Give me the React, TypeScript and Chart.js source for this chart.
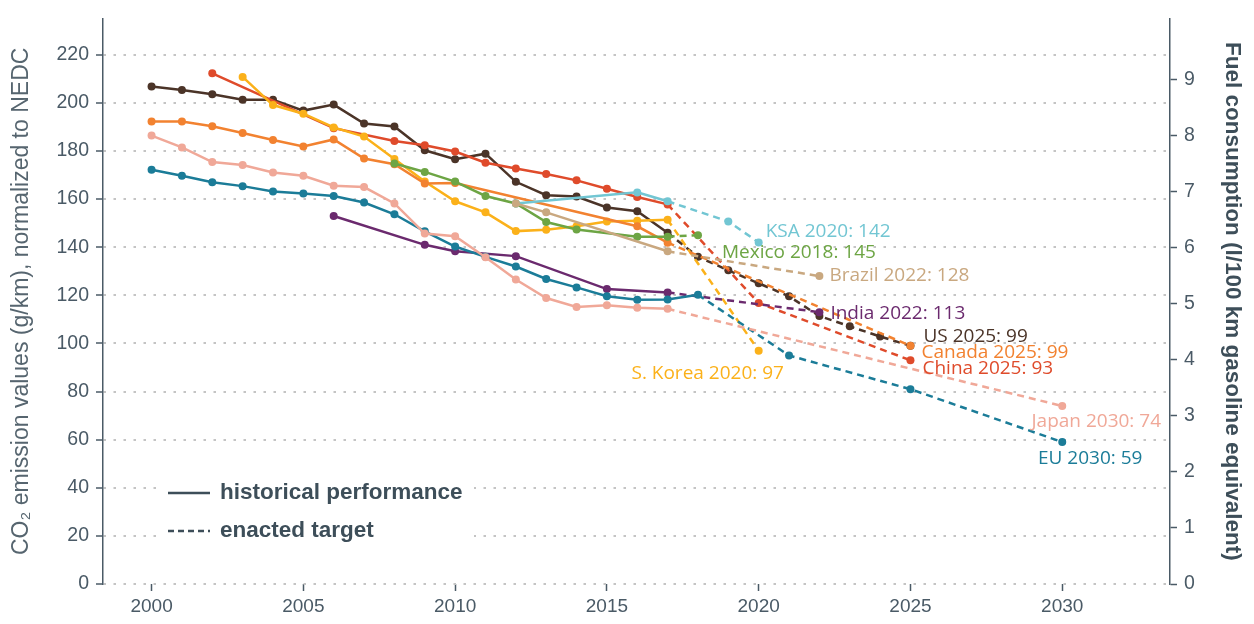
import React, { useEffect, useRef } from 'react';
import { Chart, registerables } from 'chart.js';

Chart.register(...registerables);

// ---------- data (CO2 g/km, NEDC) ----------
const usHistYears = [2000, 2001, 2002, 2003, 2004, 2005, 2006, 2007, 2008, 2009, 2010, 2011, 2012, 2013, 2014, 2015, 2016, 2017];
const usHist = [206.8, 205.4, 203.6, 201.3, 201.3, 196.8, 199.3, 191.4, 190.2, 180.3, 176.6, 178.9, 167.2, 161.6, 161.1, 156.5, 155.0, 146.0];
const usTargetYears = [2018, 2019, 2020, 2021, 2022, 2023, 2024, 2025];
const usTarget = [136.0, 130.4, 125.0, 119.6, 111.4, 107.1, 102.9, 99];

const chinaHistYears = [2002, 2006, 2008, 2009, 2010, 2011, 2012, 2013, 2014, 2015, 2016, 2017];
const chinaHist = [212.3, 189.5, 184.2, 182.4, 179.8, 175.1, 172.7, 170.4, 167.8, 164.3, 160.9, 157.8];
const chinaTargetYears = [2020, 2025];
const chinaTarget = [116.8, 93];

const canadaHistYears = [2000, 2001, 2002, 2003, 2004, 2005, 2006, 2007, 2008, 2009, 2010, 2016, 2017];
const canadaHist = [192.3, 192.3, 190.3, 187.5, 184.6, 181.9, 184.8, 176.9, 174.5, 166.5, 166.7, 148.7, 141.9];
const canadaTargetYears = [2025];
const canadaTarget = [99];

const koreaHistYears = [2003, 2004, 2005, 2006, 2007, 2008, 2009, 2010, 2011, 2012, 2013, 2014, 2015, 2016, 2017];
const koreaHist = [210.8, 199.1, 195.5, 189.8, 186.0, 176.7, 167.3, 159.1, 154.5, 146.7, 147.3, 148.7, 150.7, 151.0, 151.4];
const koreaTargetYears = [2020];
const koreaTarget = [97];

const mexicoHistYears = [2008, 2009, 2010, 2011, 2012, 2013, 2014, 2016, 2017];
const mexicoHist = [174.8, 171.3, 167.3, 161.3, 158.2, 150.5, 147.4, 144.4, 144.4];
const mexicoTargetYears = [2018];
const mexicoTarget = [145];

const brazilHistYears = [2012, 2013, 2017];
const brazilHist = [158.2, 154.5, 138.3];
const brazilTargetYears = [2022];
const brazilTarget = [128];

const ksaHistYears = [2012, 2016, 2017];
const ksaHist = [158.2, 162.8, 159.1];
const ksaTargetYears = [2019, 2020];
const ksaTarget = [150.7, 142];

const indiaHistYears = [2006, 2009, 2010, 2012, 2015, 2017];
const indiaHist = [153.0, 141.0, 138.3, 136.3, 122.6, 121.2];
const indiaTargetYears = [2022];
const indiaTarget = [113];

const euHistYears = [2000, 2001, 2002, 2003, 2004, 2005, 2006, 2007, 2008, 2009, 2010, 2011, 2012, 2013, 2014, 2015, 2016, 2017, 2018];
const euHist = [172.2, 169.7, 167.0, 165.4, 163.2, 162.3, 161.3, 158.6, 153.7, 146.6, 140.3, 136.0, 132.0, 126.8, 123.3, 119.6, 118.2, 118.3, 120.2];
const euTargetYears = [2021, 2025, 2030];
const euTarget = [95, 81, 59];

const japanHistYears = [2000, 2001, 2002, 2003, 2004, 2005, 2006, 2007, 2008, 2009, 2010, 2011, 2012, 2013, 2014, 2015, 2016, 2017];
const japanHist = [186.4, 181.5, 175.4, 174.2, 171.1, 169.7, 165.6, 165.0, 158.2, 145.7, 144.6, 135.8, 126.6, 118.9, 115.2, 115.9, 114.8, 114.4];
const japanTargetYears = [2030];
const japanTarget = [74];

const targetLabels = ['US 2025: 99', 'China 2025: 93', 'Canada 2025: 99', 'S. Korea 2020: 97', 'Mexico 2018: 145', 'Brazil 2022: 128', 'KSA 2020: 142', 'India 2022: 113', 'EU 2030: 59', 'Japan 2030: 74'];

const leftTicks = [0, 20, 40, 60, 80, 100, 120, 140, 160, 180, 200, 220];
const rightTicks = [0, 1, 2, 3, 4, 5, 6, 7, 8, 9];
const xTicks = [2000, 2005, 2010, 2015, 2020, 2025, 2030];
const legendLabels = ['historical performance', 'enacted target'];
const G_PER_L = 23.31; // g/km per l/100km (gasoline equivalent)

// ---------- styling ----------
const AXIS = '#4a5a66';
const series = [
  { hy: japanHistYears, h: japanHist, ty: japanTargetYears, t: japanTarget, color: '#f0a898', label: 9, dx: 34, dy: 16, align: 'center' },
  { hy: euHistYears, h: euHist, ty: euTargetYears, t: euTarget, color: '#1b7c98', label: 8, dx: 28, dy: 17, align: 'center' },
  { hy: indiaHistYears, h: indiaHist, ty: indiaTargetYears, t: indiaTarget, color: '#6b2a6e', label: 7, dx: 11, dy: 1, align: 'left' },
  { hy: brazilHistYears, h: brazilHist, ty: brazilTargetYears, t: brazilTarget, color: '#c9a880', label: 5, dx: 10, dy: 0, align: 'left' },
  { hy: ksaHistYears, h: ksaHist, ty: ksaTargetYears, t: ksaTarget, color: '#72c6d3', label: 6, dx: 7, dy: -11, align: 'left' },
  { hy: mexicoHistYears, h: mexicoHist, ty: mexicoTargetYears, t: mexicoTarget, color: '#6da544', label: 4, dx: 24, dy: 17, align: 'left' },
  { hy: canadaHistYears, h: canadaHist, ty: canadaTargetYears, t: canadaTarget, color: '#f28230', label: 2, dx: 11, dy: 7, align: 'left' },
  { hy: koreaHistYears, h: koreaHist, ty: koreaTargetYears, t: koreaTarget, color: '#fbb11a', label: 3, dx: -51, dy: 23, align: 'center' },
  { hy: chinaHistYears, h: chinaHist, ty: chinaTargetYears, t: chinaTarget, color: '#df4b2b', label: 1, dx: 12, dy: 8, align: 'left' },
  { hy: usHistYears, h: usHist, ty: usTargetYears, t: usTarget, color: '#4b3428', label: 0, dx: 13, dy: -9, align: 'left' },
];

const pts = (xs: number[], ys: number[]) => xs.map((x, i) => ({ x, y: ys[i] }));

const labelPlugin = {
  id: 'targetLabels',
  afterDatasetsDraw(chart: any) {
    const { ctx, scales } = chart;
    ctx.save();
    ctx.font = '19px "Open Sans"';
    ctx.textBaseline = 'middle';
    series.forEach((s) => {
      const lx = s.ty[s.ty.length - 1];
      const ly = s.t[s.t.length - 1];
      const px = scales.x.getPixelForValue(lx);
      const py = scales.y.getPixelForValue(ly);
      ctx.fillStyle = s.color;
      ctx.textAlign = s.align;
      ctx.fillText(targetLabels[s.label], px + s.dx, py + s.dy);
    });
    ctx.restore();
  },
};

const legendPlugin = {
  id: 'customLegend',
  afterDraw(chart: any) {
    const { ctx, chartArea } = chart;
    const x0 = chartArea.left + 57;
    const y1 = chartArea.bottom - 91;
    const y2 = chartArea.bottom - 53;
    ctx.save();
    ctx.fillStyle = '#ffffff';
    ctx.fillRect(x0 + 2, y1 - 18, 312, 72);
    ctx.strokeStyle = '#3d4e59';
    ctx.lineWidth = 2.5;
    ctx.beginPath();
    ctx.moveTo(x0 + 8, y1);
    ctx.lineTo(x0 + 50, y1);
    ctx.stroke();
    ctx.setLineDash([6, 4]);
    ctx.beginPath();
    ctx.moveTo(x0 + 8, y2);
    ctx.lineTo(x0 + 50, y2);
    ctx.stroke();
    ctx.setLineDash([]);
    ctx.fillStyle = '#3d4e59';
    ctx.font = 'bold 22.5px "Liberation Sans"';
    ctx.textBaseline = 'middle';
    ctx.textAlign = 'left';
    ctx.fillText(legendLabels[0], x0 + 60, y1);
    ctx.fillText(legendLabels[1], x0 + 60, y2);
    ctx.restore();
  },
};

export default function App() {
  const ref = useRef<HTMLCanvasElement>(null);
  useEffect(() => {
    if (!ref.current) return;
    const datasets: any[] = [];
    series.forEach((s) => {
      const hist = pts(s.hy, s.h);
      const last = hist[hist.length - 1];
      const common = {
        borderColor: s.color,
        backgroundColor: s.color,
        pointBackgroundColor: s.color,
        pointBorderWidth: 0,
        pointHoverRadius: 4,
        borderWidth: 2.5,
        fill: false,
        tension: 0,
        yAxisID: 'y',
      };
      datasets.push({ ...common, data: hist, pointRadius: 4 });
      const tgt = [last, ...pts(s.ty, s.t)];
      datasets.push({ ...common, data: tgt, borderDash: [7, 5], pointRadius: tgt.map((_, i) => (i === 0 ? 0 : 4)) });
    });
    const chart = new Chart(ref.current, {
      type: 'line',
      data: { datasets },
      options: {
        animation: false,
        responsive: false,
        layout: { padding: { top: 6, left: 0, right: 0, bottom: 0 } },
        plugins: { legend: { display: false }, tooltip: { enabled: false } },
        scales: {
          x: {
            type: 'linear',
            min: 1998.4,
            max: 2033.55,
            border: { display: false },
            grid: { drawOnChartArea: false, drawTicks: true, tickLength: 7, tickColor: AXIS, tickWidth: 1.5 },
            ticks: {
              stepSize: 5,
              autoSkip: false,
              includeBounds: false,
              maxRotation: 0,
              color: AXIS,
              padding: 4,
              font: { family: 'Liberation Sans', size: 19 },
              callback: (v: any) => String(v),
            },
            afterBuildTicks: (s: any) => {
              s.ticks = xTicks.map((v) => ({ value: v }));
            },
            afterFit: (s: any) => {
              s.height = 40;
            },
          },
          y: {
            position: 'left',
            min: 0,
            max: 235,
            border: { display: true, color: AXIS, width: 1.5, dash: [2.5, 7.5] },
            grid: { color: '#c4c4c4', lineWidth: 2, tickLength: 7, tickColor: AXIS, tickWidth: 1.5, tickBorderDash: [] },
            ticks: { color: AXIS, padding: 7, font: { family: 'Liberation Sans', size: 19.5 } },
            afterBuildTicks: (s: any) => {
              s.ticks = leftTicks.map((v) => ({ value: v }));
            },
            afterFit: (s: any) => {
              s.width = 103;
            },
            title: {
              display: true,
              text: 'CO₂ emission values (g/km), normalized to NEDC',
              color: '#56656f',
              font: { family: 'Liberation Sans', size: 23 },
              padding: { top: 8, bottom: 0 },
            },
          },
          y2: {
            position: 'right',
            min: 0,
            max: 235 / G_PER_L,
            border: { display: true, color: AXIS, width: 1.5 },
            grid: { drawOnChartArea: false, tickLength: 7, tickColor: AXIS, tickWidth: 1.5 },
            ticks: { color: AXIS, padding: 7, font: { family: 'Liberation Sans', size: 19.5 } },
            afterBuildTicks: (s: any) => {
              s.ticks = rightTicks.map((v) => ({ value: v }));
            },
            afterFit: (s: any) => {
              s.width = 84;
            },
            title: {
              display: true,
              text: 'Fuel consumption (l/100 km gasoline equivalent)',
              color: '#3d4e59',
              font: { family: 'Liberation Sans', size: 22.5, weight: 'bold' },
              padding: { top: 8, bottom: 0 },
            },
          },
        },
      },
      plugins: [labelPlugin, legendPlugin],
    } as any);
    return () => chart.destroy();
  }, []);
  return (
    <div style={{ position: 'fixed', left: 0, top: 0, width: 1254, height: 624, background: '#fff' }}>
      <canvas ref={ref} width={1254} height={624} style={{ width: 1254, height: 624, display: 'block' }} />
    </div>
  );
}
